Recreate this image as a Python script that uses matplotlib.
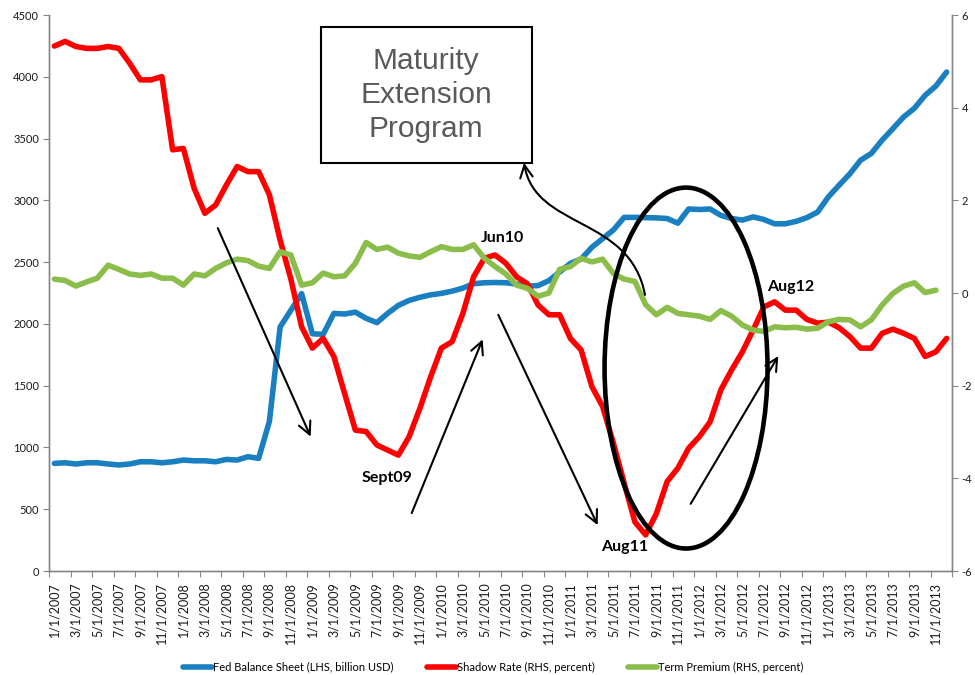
import numpy as np
import matplotlib
matplotlib.use("Agg")
import matplotlib.pyplot as plt
from matplotlib.patches import Ellipse, Rectangle, FancyArrowPatch
from matplotlib.path import Path
from matplotlib.lines import Line2D

plt.rcParams['axes.unicode_minus'] = False
plt.rcParams['font.family'] = ['Lato', 'DejaVu Sans']

# ---------------- data ----------------
years = list(range(2007, 2014))
months = [f"{m}/1/{y}" for y in years for m in range(1, 13)]
tick_labels = months[::2]

fed_balance = [871, 876, 866, 876, 876, 866, 858, 866, 884, 884, 876, 884,
               898, 892, 892, 884, 903, 898, 925, 912, 1210, 1975, 2110, 2245,
               1920, 1915, 2085, 2080, 2095, 2045, 2010, 2085, 2150, 2190, 2215, 2235,
               2247, 2265, 2290, 2325, 2333, 2335, 2333, 2322, 2306, 2310, 2350, 2420,
               2490, 2525, 2620, 2690, 2760, 2862, 2862, 2860, 2858, 2853, 2815, 2930,
               2926, 2930, 2878, 2853, 2840, 2866, 2845, 2810, 2810, 2830, 2860, 2905,
               3028, 3123, 3215, 3325, 3380, 3487, 3580, 3675, 3745, 3850, 3925, 4038]

shadow_rate = [5.33, 5.43, 5.32, 5.28, 5.28, 5.32, 5.28, 4.96, 4.60, 4.60, 4.67, 3.09,
               3.12, 2.26, 1.72, 1.90, 2.33, 2.73, 2.62, 2.62, 2.12, 1.14, 0.30, -0.73,
               -1.19, -0.98, -1.37, -2.17, -2.96, -2.99, -3.28, -3.39, -3.50, -3.10, -2.49, -1.81,
               -1.19, -1.05, -0.44, 0.35, 0.75, 0.82, 0.64, 0.35, 0.20, -0.26, -0.47, -0.47,
               -0.98, -1.23, -2.02, -2.45, -3.24, -4.10, -4.94, -5.22, -4.76, -4.07, -3.78, -3.35,
               -3.10, -2.78, -2.09, -1.66, -1.27, -0.80, -0.30, -0.19, -0.37, -0.37, -0.57, -0.65,
               -0.63, -0.75, -0.94, -1.19, -1.19, -0.87, -0.78, -0.87, -0.98, -1.37, -1.27, -0.98]

term_premium = [0.30, 0.27, 0.15, 0.24, 0.32, 0.60, 0.51, 0.41, 0.38, 0.41, 0.32, 0.32,
                0.17, 0.41, 0.37, 0.53, 0.65, 0.73, 0.70, 0.58, 0.53, 0.89, 0.82, 0.17,
                0.22, 0.43, 0.35, 0.37, 0.64, 1.09, 0.94, 0.99, 0.86, 0.80, 0.77, 0.89,
                1.00, 0.94, 0.94, 1.04, 0.75, 0.57, 0.41, 0.17, 0.10, -0.07, 0.00, 0.51,
                0.57, 0.75, 0.67, 0.73, 0.42, 0.30, 0.25, -0.25, -0.47, -0.31, -0.44, -0.47,
                -0.50, -0.57, -0.38, -0.50, -0.69, -0.80, -0.83, -0.73, -0.75, -0.74, -0.78, -0.76,
                -0.62, -0.57, -0.58, -0.73, -0.58, -0.26, -0.01, 0.15, 0.22, 0.01, 0.06, np.nan]

series_names = ["Fed Balance Sheet (LHS, billion USD)",
                "Shadow Rate (RHS, percent)",
                "Term Premium (RHS, percent)"]

# ---------------- figure ----------------
W, H = 975, 675
fig = plt.figure(figsize=(W / 100, H / 100), dpi=100)
ax = fig.add_axes([49 / W, 1 - 571 / H, (952 - 49) / W, (571 - 15) / H])
ax2 = ax.twinx()

x = np.arange(len(months))
c_blue, c_red, c_green = '#1a7fc1', '#ff0000', '#8abd4a'
lw = 4.0
l1, = ax.plot(x, fed_balance, color=c_blue, lw=lw, solid_joinstyle='round',
              solid_capstyle='round')
l2, = ax2.plot(x, shadow_rate, color=c_red, lw=lw, solid_joinstyle='round',
               solid_capstyle='round')
l3, = ax2.plot(x, term_premium, color=c_green, lw=lw, solid_joinstyle='round',
               solid_capstyle='round')

ax.set_xlim(-0.5, len(months) - 0.5)
ax.set_ylim(0, 4500)
ax.set_yticks(np.arange(0, 4501, 500))
ax2.set_ylim(-6, 6)
ax2.set_yticks(np.arange(-6, 7, 2))

spine_c = '#868686'
for a in (ax, ax2):
    for s in a.spines.values():
        s.set_color(spine_c)
        s.set_linewidth(1.0)
    a.spines['top'].set_visible(False)

ax.tick_params(axis='y', direction='out', length=4, color=spine_c, labelsize=8,
               labelcolor='#1a1a1a', pad=3)
ax2.tick_params(axis='y', direction='out', length=4, color=spine_c, labelsize=8,
                labelcolor='#1a1a1a', pad=3)

# x ticks: marks at category boundaries, labels at category centres
ax.set_xticks(np.arange(-0.5, len(months), 2))
ax.set_xticklabels([])
ax.set_xticks(x[::2], minor=True)
ax.set_xticklabels(tick_labels, minor=True, rotation=90, fontsize=9,
                   color='#1a1a1a')
ax.tick_params(axis='x', which='major', direction='out', length=4, color=spine_c)
ax.tick_params(axis='x', which='minor', length=0, pad=8)

# ---------------- annotations ----------------
# box
ax2.add_patch(Rectangle((24.77, 2.81), 44.40 - 24.77, 5.75 - 2.81, fill=False,
                        edgecolor='black', lw=1.5, zorder=5, clip_on=False))
ax2.text(34.57, 4.27, "Maturity\nExtension\nProgram", ha='center', va='center',
         fontsize=21.5, color='#595959', family=['Liberation Sans', 'DejaVu Sans'],
         linespacing=1.28, zorder=6)

# ellipse
ax2.add_patch(Ellipse((58.76, -1.62), 15.16, 7.79, fill=False, edgecolor='black',
                      lw=3.3, zorder=6))

# straight arrows
arrow_kw = dict(arrowstyle='->,head_length=0.9,head_width=0.45', lw=1.5,
                color='black', shrinkA=0, shrinkB=0)
arrows = [((15.2, 1.40), (23.84, -3.10)),
          ((33.24, -4.75), (39.84, -1.00)),
          ((41.29, -0.47), (50.54, -5.01)),
          ((59.19, -4.55), (67.34, -1.36))]
for start, end in arrows:
    ax2.annotate('', xy=end, xytext=start, arrowprops=arrow_kw, zorder=7)

# curved arrow to box
curve = Path([(54.94, -0.04), (53.55, 1.68), (44.71, 1.36), (43.69, 2.81)],
             [Path.MOVETO, Path.CURVE4, Path.CURVE4, Path.CURVE4])
ax2.add_patch(FancyArrowPatch(path=curve, arrowstyle='->,head_length=0.9,head_width=0.45',
                              mutation_scale=10, lw=1.5, color='black',
                              transform=ax2.transData, zorder=7))

# labels
lab_kw = dict(fontsize=11.5, fontweight='bold', ha='center', va='center',
              color='black', zorder=8)
ax2.text(30.94, -3.99, "Sept09", **lab_kw)
ax2.text(41.73, 1.19, "Jun10", **lab_kw)
ax2.text(53.08, -5.48, "Aug11", **lab_kw)
ax2.text(68.52, 0.13, "Aug12", **lab_kw)

# ---------------- legend ----------------
handles = [Line2D([], [], color=c, lw=4, solid_capstyle='round')
           for c in (c_blue, c_red, c_green)]
fig.legend(handles, series_names, loc='center', bbox_to_anchor=(493 / W, 1 - 667 / H),
           ncol=3, frameon=False, fontsize=8, handlelength=2.6, handletextpad=0.1,
           columnspacing=3.0)

fig.savefig("out.png", dpi=100)
